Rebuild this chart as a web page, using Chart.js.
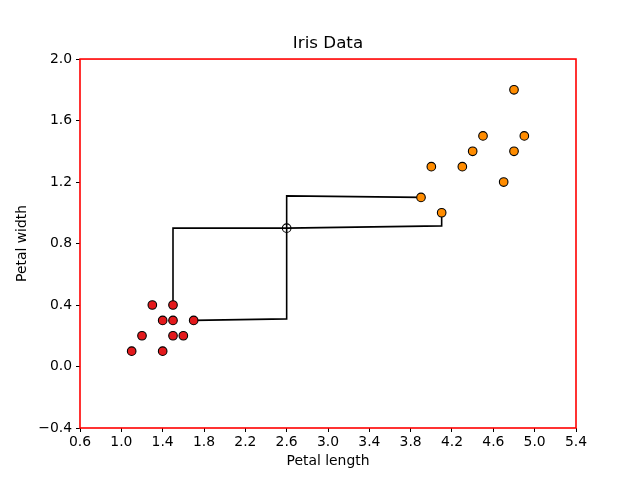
<!DOCTYPE html>
<html>
<head>
<meta charset="utf-8">
<script src="https://cdn.jsdelivr.net/npm/chart.js@4/dist/chart.umd.min.js"></script>
<style>
  html, body { margin: 0; padding: 0; background: #fff; }
  #wrap { width: 640px; height: 480px; }
</style>
</head>
<body>
<div id="wrap"><canvas id="mycanvas" width="640" height="480"></canvas></div>
<script>
// setosa points (red)
var setosaX = [1.3, 1.5, 1.4, 1.5, 1.7, 1.2, 1.5, 1.6, 1.1, 1.4];
var setosaY = [0.4, 0.4, 0.3, 0.3, 0.3, 0.2, 0.2, 0.2, 0.1, 0.1];
// versicolor points (orange)
var versiX = [4.8, 4.5, 4.9, 4.4, 4.8, 4.0, 4.3, 4.7, 3.9, 4.1];
var versiY = [1.8, 1.5, 1.5, 1.4, 1.4, 1.3, 1.3, 1.2, 1.1, 1.0];
// centre point
var centerX = [2.6];
var centerY = [0.9];
// connecting step lines
var path1X = [1.5, 1.5, 2.6, 4.1, 4.1];
var path1Y = [0.4, 0.9, 0.9, 0.915, 1.0];
var path2X = [1.7, 2.6, 2.6, 3.9];
var path2Y = [0.3, 0.31, 1.11, 1.1];
// axes
var xMin = 0.6, xMax = 5.4, xStep = 0.4;
var yMin = -0.4, yMax = 2.0, yStep = 0.4;

function pts(xs, ys) {
    var out = [];
    for (var i = 0; i < xs.length; i++) { out.push({x: xs[i], y: ys[i]}); }
    return out;
}

function fmt(v) {
    var r = Math.round(v * 10) / 10;
    if (Math.abs(r) < 1e-9) { r = 0; }
    return r.toFixed(1).replace('-', '\u2212');
}

var frame = {
    id: 'frame',
    afterDatasetsDraw: function(chart) {
        var a = chart.chartArea, c = chart.ctx;
        c.save();
        c.strokeStyle = '#ff0000';
        c.lineWidth = 1.6;
        c.strokeRect(a.left, a.top, a.right - a.left, a.bottom - a.top);
        c.restore();
    }
};

var font = {family: 'DejaVu Sans', size: 13.9};

var lineStyle = {
    type: 'line',
    showLine: true,
    borderColor: '#000000',
    borderWidth: 1.6,
    pointRadius: 0,
    fill: false,
    tension: 0,
    order: 2
};

var chart = new Chart(document.getElementById('mycanvas'), {
    type: 'scatter',
    data: {
        datasets: [
            Object.assign({label: 'path1', data: pts(path1X, path1Y)}, lineStyle),
            Object.assign({label: 'path2', data: pts(path2X, path2Y)}, lineStyle),
            {
                label: 'setosa',
                data: pts(setosaX, setosaY),
                backgroundColor: '#e3191c',
                borderColor: '#000000',
                borderWidth: 1.1,
                pointRadius: 4.3,
                order: 1
            },
            {
                label: 'versicolor',
                data: pts(versiX, versiY),
                backgroundColor: '#ff8c00',
                borderColor: '#000000',
                borderWidth: 1.1,
                pointRadius: 4.3,
                order: 1
            },
            {
                label: 'center',
                data: pts(centerX, centerY),
                backgroundColor: 'rgba(0,0,0,0)',
                borderColor: '#000000',
                borderWidth: 1.1,
                pointRadius: 4.3,
                order: 1
            }
        ]
    },
    options: {
        responsive: false,
        animation: false,
        devicePixelRatio: 1,
        layout: {padding: {left: 0, right: 64, top: 0, bottom: 0}},
        plugins: {
            legend: {display: false},
            tooltip: {enabled: false},
            title: {
                display: true,
                text: 'Iris Data',
                color: '#000',
                fullSize: false,
                font: {family: 'DejaVu Sans', size: 16.7, weight: 'normal', lineHeight: 1.2},
                padding: {top: 34, bottom: 5}
            }
        },
        scales: {
            x: {
                type: 'linear',
                min: xMin, max: xMax,
                afterFit: function(s) { s.height = 52; },
                ticks: {
                    stepSize: xStep, color: '#000', font: font, padding: 2,
                    maxRotation: 0, autoSkip: false,
                    callback: function(v) { return fmt(v); }
                },
                grid: {display: true, drawOnChartArea: false, drawTicks: true, tickLength: 4, tickColor: '#000'},
                border: {display: false},
                title: {display: true, text: 'Petal length', color: '#000', font: font, padding: {top: 0, bottom: 10}}
            },
            y: {
                type: 'linear',
                min: yMin, max: yMax,
                afterFit: function(s) { s.width = 80; },
                ticks: {
                    stepSize: yStep, color: '#000', font: font, padding: 4,
                    autoSkip: false,
                    callback: function(v) { return fmt(v); }
                },
                grid: {display: true, drawOnChartArea: false, drawTicks: true, tickLength: 4, tickColor: '#000'},
                border: {display: false},
                title: {display: true, text: 'Petal width', color: '#000', font: font, padding: {top: 14, bottom: 0}}
            }
        }
    },
    plugins: [frame]
});
</script>
</body>
</html>
